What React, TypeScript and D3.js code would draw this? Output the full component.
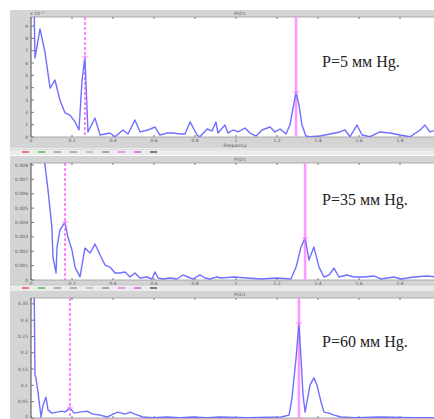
import * as d3 from "d3";

// frequency axis shared by all three spectra
const xTicks = [0, 0.2, 0.4, 0.6, 0.8, 1, 1.2, 1.4, 1.6, 1.8];

// P = 5 mm Hg, values in units of 1e-3
const freq1 = [0.015, 0.0195, 0.044, 0.068, 0.093, 0.117, 0.141, 0.166, 0.19, 0.215, 0.234, 0.249, 0.263, 0.278, 0.312, 0.337, 0.361, 0.385, 0.41, 0.449, 0.473, 0.507, 0.532, 0.571, 0.605, 0.629, 0.663, 0.693, 0.727, 0.751, 0.776, 0.81, 0.824, 0.859, 0.883, 0.902, 0.912, 0.946, 0.961, 0.985, 1.01, 1.044, 1.068, 1.098, 1.127, 1.166, 1.19, 1.215, 1.244, 1.263, 1.293, 1.307, 1.322, 1.341, 1.361, 1.41, 1.459, 1.507, 1.532, 1.556, 1.59, 1.615, 1.654, 1.702, 1.751, 1.8, 1.849, 1.898, 1.922, 1.946, 1.976];
const psd1 = [10.6, 6.41, 8.76, 6.9, 3.97, 4.62, 3.0, 1.95, 1.78, 1.22, 0.57, 4.6, 6.49, 0.41, 1.54, 0.16, 0.24, 0.32, 0.02, 0.57, 0.24, 1.38, 0.41, 0.57, 0.81, 0.16, 0.32, 0.32, 0.24, 0.24, 1.22, 0.16, 0.02, 0.65, 0.49, 1.22, 0.32, 0.97, 0.32, 0.57, 0.41, 0.73, 0.32, 0.08, 0.57, 0.81, 0.41, 0.65, 0.24, 0.97, 3.65, 2.6, 0.97, 0.08, 0.02, 0.08, 0.24, 0.41, 0.57, 0.02, 0.97, 0.16, 0.02, 0.41, 0.32, 0.16, 0.02, 0.57, 0.97, 0.41, 0.57];
const yTicks1 = [0, 1, 2, 3, 4, 5, 6, 7, 8, 9];

// P = 35 mm Hg
const freq2 = [0.054, 0.083, 0.102, 0.107, 0.122, 0.127, 0.141, 0.166, 0.18, 0.2, 0.215, 0.239, 0.263, 0.288, 0.312, 0.337, 0.361, 0.385, 0.41, 0.434, 0.459, 0.483, 0.507, 0.532, 0.566, 0.59, 0.605, 0.62, 0.644, 0.678, 0.712, 0.741, 0.766, 0.79, 0.824, 0.849, 0.873, 0.907, 0.927, 0.99, 1.054, 1.122, 1.195, 1.268, 1.293, 1.317, 1.337, 1.356, 1.38, 1.405, 1.429, 1.454, 1.478, 1.502, 1.541, 1.576, 1.624, 1.673, 1.707, 1.771, 1.805, 1.868, 1.932, 1.976];
const psd2 = [0.0097, 0.00625, 0.00368, 0.0016, 0.00049, 0.00229, 0.00347, 0.00403, 0.00299, 0.00208, 0.0009, 0.00021, 0.00222, 0.00188, 0.0025, 0.00174, 0.00104, 0.0009, 0.00049, 0.00049, 0.00056, 0.00021, 0.00049, 0.00014, 0.00021, 0.00007, 0.00056, 0.00014, 0.00007, 0.00014, 0.00007, 0.00035, 0.00021, 0.00007, 0.00035, 0.00014, 0.00007, 0.00021, 0.00014, 0.00021, 0.00014, 0.00007, 0.00014, 0.00007, 0.0009, 0.00229, 0.00292, 0.00139, 0.00229, 0.0009, 0.00021, 0.00035, 0.00083, 0.00021, 0.00035, 0.00021, 0.00021, 0.00028, 0.00007, 0.00021, 0.00007, 0.00021, 0.00028, 0.00021];
const yTicks2 = [0, 0.001, 0.002, 0.003, 0.004, 0.005, 0.006, 0.007, 0.008];

// P = 60 mm Hg
const freq3 = [0.015, 0.0195, 0.024, 0.034, 0.049, 0.059, 0.073, 0.083, 0.102, 0.127, 0.151, 0.166, 0.19, 0.21, 0.239, 0.273, 0.302, 0.337, 0.371, 0.4, 0.424, 0.459, 0.483, 0.507, 0.546, 0.595, 0.663, 0.727, 0.79, 0.859, 0.922, 1.054, 1.22, 1.259, 1.273, 1.293, 1.307, 1.317, 1.327, 1.337, 1.346, 1.361, 1.38, 1.395, 1.415, 1.429, 1.454, 1.478, 1.512, 1.576, 1.707, 1.868, 1.976];
const psd3 = [0.42, 0.132, 0.123, 0.08, 0.003, 0.04, 0.064, 0.025, 0.015, 0.018, 0.021, 0.018, 0.031, 0.015, 0.018, 0.021, 0.012, 0.009, 0.003, 0.012, 0.018, 0.012, 0.018, 0.012, 0.003, 0.001, 0.003, 0.001, 0.003, 0.001, 0.003, 0.001, 0.003, 0.009, 0.061, 0.184, 0.291, 0.184, 0.071, 0.018, 0.049, 0.101, 0.123, 0.101, 0.049, 0.018, 0.015, 0.009, 0.003, 0.001, 0.003, 0.001, 0.001];
const yTicks3 = [0, 0.05, 0.1, 0.15, 0.2, 0.25, 0.3, 0.35];

// LF / HF peak cursors
const lfPeaks = [0.263, 0.166, 0.19];
const hfPeaks = [1.293, 1.337, 1.307];
const labels = ["P=5 мм Hg.", "P=35 мм Hg.", "P=60 мм Hg."];

const W = 434;
const H = 419;
const plotLeft = 31;
const plotRight = 441;

// last panel is cut by the window, so its x labels are not shown
const layout = [
  { frameTop: 10, top: 17, bottom: 137, yMax: 9.73, labelY: 67, xLabels: true },
  { frameTop: 156, top: 163, bottom: 280, yMax: 0.00814, labelY: 205, xLabels: true },
  { frameTop: 291, top: 298, bottom: 418, yMax: 0.368, labelY: 347, xLabels: false },
];

const panels = [
  { freq: freq1, psd: psd1, yTicks: yTicks1, fmt: (d: number) => String(d) },
  { freq: freq2, psd: psd2, yTicks: yTicks2, fmt: (d: number) => (d === 0 ? "0" : d3.format(".3f")(d)) },
  { freq: freq3, psd: psd3, yTicks: yTicks3, fmt: (d: number) => String(d) },
];

const x = d3.scaleLinear().domain([0, 2]).range([plotLeft, plotRight]);

const grey = "#d4d4d4";
const curve = "#6f6fff";

function Panel({ i }: { i: number }) {
  const p = panels[i];
  const l = layout[i];
  const y = d3.scaleLinear().domain([0, l.yMax]).range([l.bottom, l.top]);
  const pts: [number, number][] = p.freq.map((f, k) => [f, p.psd[k]]);
  const line = d3
    .line<[number, number]>()
    .x((d) => x(d[0]))
    .y((d) => y(d[1]));
  const lfIdx = d3.minIndex(p.freq, (f) => Math.abs(f - lfPeaks[i]));
  const hfIdx = d3.minIndex(p.freq, (f) => Math.abs(f - hfPeaks[i]));
  const clipId = `clip${i}`;

  return (
    <g>
      {/* window frame */}
      <rect x={10} y={l.frameTop} width={W} height={l.bottom - l.frameTop + 11} fill={grey} />
      <text x={240} y={l.frameTop + 5} fontSize={4.5} fill="#666" textAnchor="middle" fontFamily="DejaVu Sans">
        PSD1
      </text>
      <rect x={plotLeft} y={l.top} width={plotRight - plotLeft} height={l.bottom - l.top} fill="#fff" />
      <clipPath id={clipId}>
        <rect x={plotLeft} y={l.top} width={plotRight - plotLeft} height={l.bottom - l.top} />
      </clipPath>

      {/* axes */}
      <line x1={plotLeft} x2={plotLeft} y1={l.top} y2={l.bottom} stroke="#666" strokeWidth={1.2} />
      <line x1={plotLeft} x2={plotRight} y1={l.top} y2={l.top} stroke="#999" strokeWidth={0.8} />
      <line x1={plotLeft} x2={plotRight} y1={l.bottom} y2={l.bottom} stroke="#999" strokeWidth={0.8} />
      {xTicks.map((t) => (
        <g key={t}>
          <line x1={x(t)} x2={x(t)} y1={l.top} y2={l.top + 2} stroke="#777" />
          <line x1={x(t)} x2={x(t)} y1={l.bottom} y2={l.bottom - 2} stroke="#777" />
          {l.xLabels && (
            <text x={x(t)} y={l.bottom + 5} fontSize={4.5} fill="#555" textAnchor="middle" fontFamily="DejaVu Sans">
              {t}
            </text>
          )}
        </g>
      ))}
      {l.xLabels && (
        <text x={235} y={l.bottom + 9.5} fontSize={4.5} fill="#555" textAnchor="middle" fontFamily="DejaVu Sans">
          Frequency
        </text>
      )}
      {p.yTicks.map((t) => (
        <g key={t}>
          <line x1={plotLeft} x2={plotLeft + 3} y1={y(t)} y2={y(t)} stroke="#777" />
          <text x={plotLeft - 3} y={Math.min(y(t) + 1.5, H - 1)} fontSize={4.5} fill="#555" textAnchor="end" fontFamily="DejaVu Sans">
            {p.fmt(t)}
          </text>
        </g>
      ))}
      {i === 0 && (
        <text x={plotLeft - 1} y={l.top - 2} fontSize={4.5} fill="#555" fontFamily="DejaVu Sans">
          x 10⁻³
        </text>
      )}

      <g clipPath={`url(#${clipId})`}>
        <line
          x1={x(lfPeaks[i])}
          x2={x(lfPeaks[i])}
          y1={l.top}
          y2={l.bottom}
          stroke="#ff55ff"
          strokeWidth={1.4}
          strokeDasharray="3,2"
        />
        <line
          x1={x(hfPeaks[i])}
          x2={x(hfPeaks[i])}
          y1={l.top}
          y2={l.bottom}
          stroke="#ff99ff"
          strokeWidth={2.6}
        />
        <path d={line(pts) ?? ""} fill="none" stroke={curve} strokeWidth={1.4} strokeLinejoin="round" />
        {[lfIdx, hfIdx].map((k) => (
          <g key={k} stroke="#ff88ff" strokeWidth={1}>
            <line x1={x(p.freq[k]) - 3} x2={x(p.freq[k]) + 3} y1={y(p.psd[k])} y2={y(p.psd[k])} />
            <line x1={x(p.freq[k])} x2={x(p.freq[k])} y1={y(p.psd[k]) - 3} y2={y(p.psd[k]) + 3} />
          </g>
        ))}
      </g>

      <text x={322} y={l.labelY} fontSize={16} fill="#222" fontFamily="Liberation Serif, serif">
        {labels[i]}
      </text>
    </g>
  );
}

function Toolbar({ y0 }: { y0: number }) {
  const icons = ["#d33", "#3a3", "#888", "#888", "#aaa", "#777", "#d6d", "#d3d", "#333"];
  return (
    <g>
      <rect x={10} y={y0} width={W} height={6} fill="#ebebeb" />
      <line x1={10} x2={W} y1={y0} y2={y0} stroke="#bbb" strokeWidth={0.6} />
      {icons.map((c, k) => (
        <rect key={k} x={22 + k * 16} y={y0 + 2} width={7} height={2} fill={c} opacity={0.6} />
      ))}
    </g>
  );
}

export default function App() {
  return (
    <svg width={W} height={H} style={{ position: "absolute", left: 0, top: 0, background: "#fff" }}>
      <Panel i={0} />
      <Panel i={1} />
      <Panel i={2} />
      <Toolbar y0={149} />
      <Toolbar y0={285} />
    </svg>
  );
}
